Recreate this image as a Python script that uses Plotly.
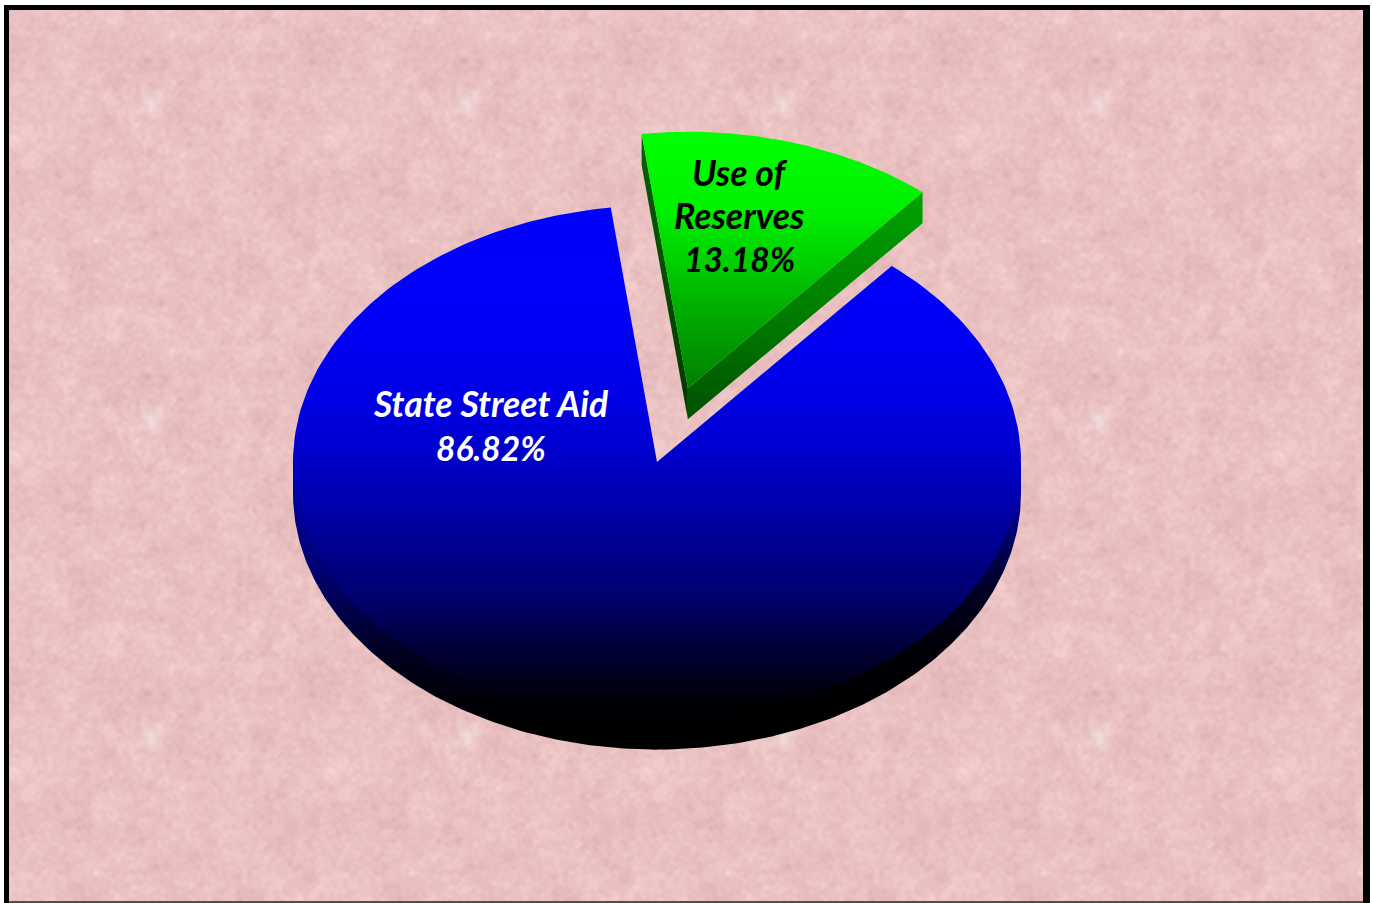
import base64
import struct
import zlib

import numpy as np
import plotly.graph_objects as go

# Budget shares, in percent
slice_names = ["Use of Reserves", "State Street Aid"]
slice_values = [13.18, 86.82]
label_lines = [["Use of", "Reserves", "13.18%"], ["State Street Aid", "86.82%"]]
label_colors = ["#000000", "#ffffff"]

# Page geometry, pixels
WIDTH, HEIGHT = 1373, 903
FRAME_OUTER = (4, 5, 1370, 903)
FRAME_INNER = (9, 10, 1363, 901)

# Tilted pie geometry, pixels
CX, CY = 657, 462
RX, RY = 364, 256.5
DEPTH = 31
FIRST_ANGLE = -7.3      # clockwise from twelve o'clock
EXPLODE = (0.3, 0.0)

BLUE_TOP = [[0, "#0000ff"], [0.19, "#0000fa"], [0.38, "#0000e6"], [0.457, "#0000d4"],
            [0.574, "#0000b0"], [0.652, "#000094"], [0.769, "#00006c"], [0.867, "#000036"],
            [0.964, "#000008"], [1, "#000000"]]
BLUE_WALL_LEFT = [[0, "#0000a8"], [0.34, "#000078"], [0.48, "#000056"], [0.65, "#000024"],
                  [0.83, "#000008"], [0.95, "#000000"], [1, "#000000"]]
BLUE_WALL_RIGHT = [[0, "#0000c0"], [0.167, "#000098"], [0.316, "#000050"], [0.444, "#000024"],
                   [0.65, "#000008"], [0.9, "#000000"], [1, "#000000"]]
GREEN_TOP = [[0, "#00ff00"], [0.3, "#00f000"], [0.5, "#00d000"], [0.75, "#00a400"], [1, "#008000"]]
GREEN_RIGHT_WALL = [[0, "#00a400"], [0.55, "#007c00"], [1, "#005000"]]
GREEN_LEFT_WALL = [[0, "#006400"], [1, "#003800"]]


def rim(angle, cx=CX, cy=CY):
    a = np.radians(angle)
    return cx + RX * np.sin(a), cy - RY * np.cos(a)


def sector(a0, a1, cx=CX, cy=CY):
    angles = np.linspace(a0, a1, 240)
    xs, ys = rim(angles, cx, cy)
    return [cx, *xs, cx], [cy, *ys, cy]


def filled(xs, ys, scale, start, stop, name):
    return go.Scatter(
        x=xs, y=ys, mode="lines", fill="toself", name=name,
        line=dict(width=0), hoverinfo="name",
        fillgradient=dict(type="vertical", colorscale=scale, start=start, stop=stop),
    )


def rim_wall(a0, a1, scale, name):
    # Runs under the top face back to the centre, so no seam shows along the rim
    ax, ay = rim(np.linspace(a0, a1, 120))
    ay = ay + DEPTH
    side = a0 if a0 == 90 else a1
    ex, ey = rim(side)
    if a0 == 90:
        xs, ys = [CX, ex, *ax, CX], [CY, ey, *ay, CY]
    else:
        xs, ys = [CX, *ax, ex, CX], [CY, *ay, ey, CY]
    return filled(xs, ys, scale, CY, CY + RY + DEPTH, name)


def texture_tile(size=158):
    # Soft mottling built from a fixed spectrum, so the tile repeats seamlessly
    spectrum = np.zeros((size, size), dtype=complex)
    for ky in range(-50, 51):
        for kx in range(-50, 51):
            mag = np.hypot(kx, ky)
            if mag < 1.5:
                continue
            h = np.sin(kx * 12.9898 + ky * 78.233 + 0.5) * 43758.5453
            phase = 2 * np.pi * (h % 1)
            spectrum[ky % size, kx % size] = np.exp(1j * phase) / mag ** 0.85
    field = np.fft.ifft2(spectrum).real
    field /= field.std()
    yy, xx = np.mgrid[0:size, 0:size]
    # Pale fleck that recurs once per tile
    fleck = np.exp(-(((xx - 70) ** 2 + (yy - 46) ** 2) / (2 * 3.5 ** 2)))
    return field, fleck


def background_uri():
    x0, y0, x1, y1 = FRAME_INNER
    w, h = (x1 - x0) // 2, (y1 - y0) // 2
    field, fleck = texture_tile()
    f = np.tile(field, (h // 158 + 1, w // 158 + 1))[:h, :w]
    s = np.tile(fleck, (h // 158 + 1, w // 158 + 1))[:h, :w]
    rgb = np.zeros((h, w, 3))
    rgb[..., 0] = 235 + 3.2 * f + 2 * s
    rgb[..., 1] = 194 + 4.6 * f + 20 * s
    rgb[..., 2] = 194 + 4.6 * f + 20 * s
    pixels = np.clip(rgb, 0, 255).astype(np.uint8)
    raw = b"".join(b"\x00" + pixels[r].tobytes() for r in range(h))

    def chunk(tag, data):
        return struct.pack(">I", len(data)) + tag + data + struct.pack(">I", zlib.crc32(tag + data))

    png = (b"\x89PNG\r\n\x1a\n"
           + chunk(b"IHDR", struct.pack(">IIBBBBB", w, h, 8, 2, 0, 0, 0))
           + chunk(b"IDAT", zlib.compress(raw, 9))
           + chunk(b"IEND", b""))
    return "data:image/png;base64," + base64.b64encode(png).decode()


# Turn the values into sweep angles
total = sum(slice_values)
sweeps = [360 * v / total for v in slice_values]
use_a0 = FIRST_ANGLE
use_a1 = use_a0 + sweeps[0]
aid_a0, aid_a1 = use_a1, use_a1 + sweeps[1]

# The smaller slice is pulled out along its bisector
mid = np.radians((use_a0 + use_a1) / 2)
gx = CX + EXPLODE[0] * RX * np.sin(mid)
gy = CY - EXPLODE[0] * RY * np.cos(mid)

fig = go.Figure()

# Main slice: rim wall in two halves (light falls from the left), then the top face
fig.add_trace(rim_wall(90, 180.5, BLUE_WALL_RIGHT, "State Street Aid side, right"))
fig.add_trace(rim_wall(180, 270, BLUE_WALL_LEFT, "State Street Aid side, left"))
xs, ys = sector(aid_a0, aid_a1)
fig.add_trace(filled(xs, ys, BLUE_TOP, CY - RY, CY + RY, slice_names[1]))

# Exploded slice: both cut walls, then the top face
lx, ly = rim(use_a0, gx, gy)
rx, ry = rim(use_a1, gx, gy)
fig.add_trace(filled([lx, gx, gx, lx, lx], [ly, gy, gy + DEPTH, ly + DEPTH, ly], GREEN_LEFT_WALL,
                     ly, gy + DEPTH, "Use of Reserves left side"))
fig.add_trace(filled([rx, gx, gx, rx, rx], [ry, gy, gy + DEPTH, ry + DEPTH, ry], GREEN_RIGHT_WALL,
                     ry, gy + DEPTH, "Use of Reserves right side"))
xs, ys = sector(use_a0, use_a1, gx, gy)
fig.add_trace(filled(xs, ys, GREEN_TOP, ly, gy, slice_names[0]))

# Labels, one annotation per line; the percentages run a touch smaller
NAME_SIZE, PERCENT_SIZE = 35.5, 33.5
label_anchors = [(739, 172), (491, 403.5)]
line_steps = [43.5, 44]
annotations = []
for lines, color, (ax_, ay_), step in zip(label_lines, label_colors, label_anchors, line_steps):
    for i, line in enumerate(lines):
        size = PERCENT_SIZE if line.endswith("%") else NAME_SIZE
        annotations.append(dict(
            x=ax_, y=ay_ + i * step, text=line, showarrow=False,
            xref="x", yref="y", xanchor="center", yanchor="middle",
            font=dict(family="Lato", size=size, style="italic", weight="bold", color=color),
        ))

# Black frame, heavier on three sides than along the bottom
ox0, oy0, ox1, oy1 = FRAME_OUTER
ix0, iy0, ix1, iy1 = FRAME_INNER
frame = [(ox0, oy0, ox1, iy0), (ox0, oy0, ix0, oy1), (ix1, oy0, ox1, oy1), (ix0, iy1, ix1, oy1)]
shapes = [dict(type="rect", xref="x", yref="y", x0=a, y0=b, x1=c, y1=d,
               fillcolor="#000000", line=dict(width=0), layer="above") for a, b, c, d in frame]
shapes[3]["fillcolor"] = "#5a4a4a"

fig.update_layout(
    width=WIDTH, height=HEIGHT, autosize=False,
    margin=dict(l=0, r=0, t=0, b=0, pad=0),
    paper_bgcolor="#ffffff", plot_bgcolor="rgba(0,0,0,0)",
    showlegend=False,
    xaxis=dict(range=[0, WIDTH], visible=False, fixedrange=True),
    yaxis=dict(range=[HEIGHT, 0], visible=False, fixedrange=True),
    annotations=annotations, shapes=shapes,
    images=[dict(source=background_uri(), xref="x", yref="y", x=ix0, y=iy0,
                 sizex=ix1 - ix0, sizey=iy1 - iy0, sizing="stretch",
                 xanchor="left", yanchor="top", layer="below")],
)

fig.write_html("out.html", config=dict(displayModeBar=False))
